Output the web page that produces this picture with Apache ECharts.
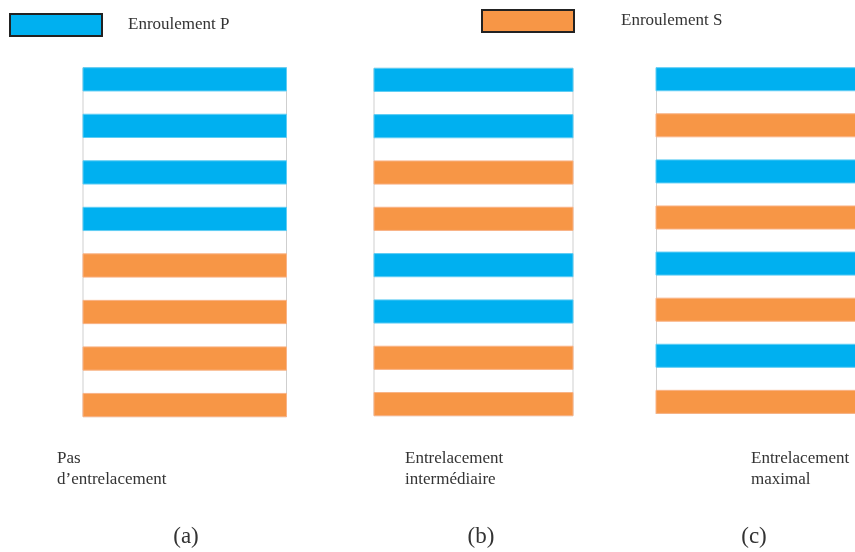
<!DOCTYPE html>
<html>
<head>
<meta charset="utf-8">
<script src="https://cdn.jsdelivr.net/npm/echarts@6/dist/echarts.min.js"></script>
<style>html,body{margin:0;padding:0;background:#fff}#c{width:855px;height:552px}</style>
</head>
<body>
<div id="c"></div>
<script>
// ---- data ----
const seriesNames = ['Enroulement P', 'Enroulement S'];
const seriesKeys = ['P', 'S'];
const panelLabels = ['Pas\nd’entrelacement', 'Entrelacement\nintermédiaire', 'Entrelacement\nmaximal'];
const panelLetters = ['(a)', '(b)', '(c)'];
const patternA = ['P', 'P', 'P', 'P', 'S', 'S', 'S', 'S'];
const patternB = ['P', 'P', 'S', 'S', 'P', 'P', 'S', 'S'];
const patternC = ['P', 'S', 'P', 'S', 'P', 'S', 'P', 'S'];
const patterns = [patternA, patternB, patternC];

// ---- styles / layout ----
const FONT = '"Liberation Serif", "DejaVu Serif", serif';
const colors = { P: '#00B0F0', S: '#F79646' };
const edgeColors = { P: '#5fcdf4', S: '#f9b386' };
const BORDER = '#cfcfcf';
const grids = [
  { left: 83, top: 67.7, width: 203.5, height: 349 },
  { left: 374, top: 68.3, width: 199, height: 347.4 },
  { left: 656, top: 67.7, width: 212, height: 345.7 }
];
const openRight = [false, false, true];
const labelPos = [[57, 448.5], [405, 448.5], [751, 448.5]];
const letterPos = [[186, 537], [481, 537], [754, 537]];

const hiddenParts = { axisTick: { show: false }, axisLabel: { show: false }, splitLine: { show: false } };

const option = {
  animation: false,
  backgroundColor: '#fff',
  grid: grids.map((g, i) => Object.assign({
    show: !openRight[i], borderColor: BORDER, borderWidth: 1, backgroundColor: 'transparent',
    outerBoundsMode: 'none', containLabel: false
  }, g)),
  xAxis: grids.map((g, i) => Object.assign({
    type: 'value', gridIndex: i, min: 0, max: 1, show: openRight[i], position: 'bottom',
    axisLine: { show: true, onZero: false, lineStyle: { color: BORDER, width: 1 } }
  }, hiddenParts)),
  yAxis: grids.map((g, i) => Object.assign({
    type: 'value', gridIndex: i, min: 0, max: 15, inverse: true, show: openRight[i], position: 'left',
    axisLine: { show: true, onZero: false, lineStyle: { color: BORDER, width: 1 } }
  }, hiddenParts)),
  legend: [
    { data: [seriesNames[0]], left: 9, top: 13, padding: 0, itemWidth: 92, itemHeight: 22, icon: 'rect',
      itemStyle: { borderColor: '#222', borderWidth: 2 },
      textStyle: { fontFamily: FONT, fontSize: 17, color: '#333', padding: [0, 0, 0, 21] } },
    { data: [seriesNames[1]], left: 481, top: 9, padding: 0, itemWidth: 92, itemHeight: 22, icon: 'rect',
      itemStyle: { borderColor: '#222', borderWidth: 2 },
      textStyle: { fontFamily: FONT, fontSize: 17, color: '#333', padding: [0, 0, 0, 42] } }
  ],
  series: [],
  graphic: []
};

patterns.forEach((pat, gi) => {
  seriesKeys.forEach((key, ki) => {
    const data = [];
    pat.forEach((k, idx) => { if (k === key) data.push([idx]); });
    option.series.push({
      type: 'custom',
      name: seriesNames[ki],
      xAxisIndex: gi,
      yAxisIndex: gi,
      clip: false,
      itemStyle: { color: colors[key] },
      data: data,
      renderItem: function (params, api) {
        const i = api.value(0);
        const p0 = api.coord([0, 2 * i]);
        const p1 = api.coord([1, 2 * i + 1]);
        return {
          type: 'rect',
          shape: { x: p0[0], y: p0[1], width: p1[0] - p0[0], height: p1[1] - p0[1] },
          style: { fill: colors[key], stroke: edgeColors[key], lineWidth: 1 }
        };
      }
    });
  });
  option.graphic.push({
    type: 'text', left: labelPos[gi][0], top: labelPos[gi][1],
    style: { text: panelLabels[gi], font: '17px ' + FONT, fill: '#333', lineHeight: 21 }
  });
  option.graphic.push({
    type: 'text', x: letterPos[gi][0], y: letterPos[gi][1],
    style: { text: panelLetters[gi], font: '23px ' + FONT, fill: '#333', textAlign: 'center', textVerticalAlign: 'middle' }
  });
});

const chart = echarts.init(document.getElementById('c'), null, { renderer: 'canvas' });
chart.setOption(option);
</script>
</body>
</html>
